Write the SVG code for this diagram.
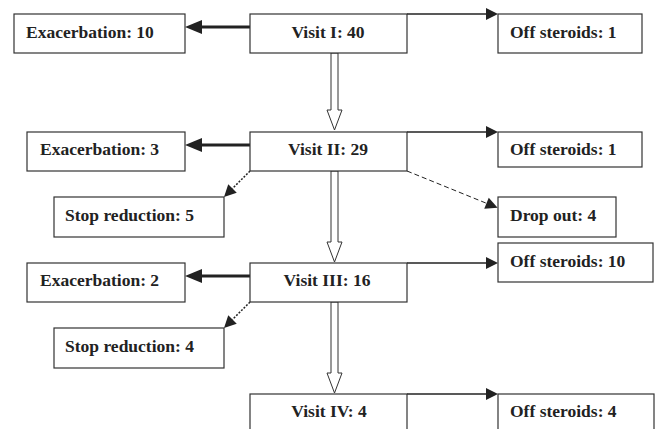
<svg xmlns="http://www.w3.org/2000/svg" width="655" height="429" viewBox="0 0 655 429">
<style>
.box{fill:#fff;stroke:#333;stroke-width:1.2}
.t{font-family:"Liberation Serif","Times New Roman",serif;font-weight:bold;font-size:17.5px;fill:#222}
.c{text-anchor:middle}
.thick{stroke:#222;stroke-width:3;fill:none}
.thin{stroke:#222;stroke-width:1.5;fill:none}
.dot{stroke:#222;stroke-width:1.5;stroke-dasharray:2 1.5;fill:none}
.dash{stroke:#222;stroke-width:1;stroke-dasharray:5 3;fill:none}
.hollow{fill:#fff;stroke:#333;stroke-width:1}
</style>
<defs>
<marker id="hb" markerUnits="userSpaceOnUse" viewBox="0 -7 17 14" markerWidth="17" markerHeight="14" refX="0" refY="0" orient="auto" overflow="visible"><path d="M0,-7 L17,0 L0,7 z" fill="#222"/></marker>
<marker id="hs" markerUnits="userSpaceOnUse" viewBox="0 -6 12 12" markerWidth="12" markerHeight="12" refX="0" refY="0" orient="auto" overflow="visible"><path d="M0,-6 L12,0 L0,6 z" fill="#222"/></marker>
</defs>
<rect width="655" height="429" fill="#fff"/>
<g id="connectors">
<line class="thick" x1="250" y1="27" x2="202" y2="27" marker-end="url(#hb)"/>
<line class="thick" x1="250" y1="145" x2="202" y2="145" marker-end="url(#hb)"/>
<line class="thick" x1="250" y1="276" x2="202" y2="276" marker-end="url(#hb)"/>
<line class="thin" x1="407" y1="14" x2="486" y2="14" marker-end="url(#hs)"/>
<line class="thin" x1="407" y1="132" x2="486" y2="132" marker-end="url(#hs)"/>
<line class="thin" x1="407" y1="263" x2="486" y2="263" marker-end="url(#hs)"/>
<line class="thin" x1="407" y1="394" x2="486" y2="394" marker-end="url(#hs)"/>
<line class="dot" x1="250" y1="171" x2="232.5" y2="188.5" marker-end="url(#hs)"/>
<line class="dot" x1="250" y1="302" x2="232.5" y2="319.5" marker-end="url(#hs)"/>
<line class="dash" x1="407" y1="171" x2="486.5" y2="203.3" marker-end="url(#hs)"/>
<path class="hollow" d="M331,53 L338,53 L338,110 L342,110 L334.5,130 L327,110 L331,110 z"/>
<path class="hollow" d="M331,171 L338,171 L338,242 L342,242 L334.5,262 L327,242 L331,242 z"/>
<path class="hollow" d="M331,302 L338,302 L338,373 L342,373 L334.5,393 L327,373 L331,373 z"/>
</g>
<g id="ex10"><rect class="box" x="14" y="14" width="171" height="39"/><text class="t" x="26" y="37.5">Exacerbation: 10</text></g>
<g id="v1"><rect class="box" x="250" y="14" width="157" height="39"/><text class="t c" x="328" y="37.5">Visit I: 40</text></g>
<g id="off1a"><rect class="box" x="498" y="14" width="144" height="39"/><text class="t" x="510" y="37.5">Off steroids: 1</text></g>
<g id="ex3"><rect class="box" x="27" y="132" width="158" height="39"/><text class="t" x="40" y="154.5">Exacerbation: 3</text></g>
<g id="v2"><rect class="box" x="250" y="132" width="157" height="39"/><text class="t c" x="328" y="154.5">Visit II: 29</text></g>
<g id="off1b"><rect class="box" x="498" y="132" width="144" height="35"/><text class="t" x="510" y="154.5">Off steroids: 1</text></g>
<g id="sr5"><rect class="box" x="54" y="197" width="170" height="40"/><text class="t" x="65" y="220.5">Stop reduction: 5</text></g>
<g id="do4"><rect class="box" x="498" y="197" width="118" height="40"/><text class="t" x="510" y="220.5">Drop out: 4</text></g>
<g id="off10"><rect class="box" x="498" y="243" width="155" height="39"/><text class="t" x="510" y="266.5">Off steroids: 10</text></g>
<g id="ex2"><rect class="box" x="27" y="263" width="158" height="39"/><text class="t" x="40" y="285.5">Exacerbation: 2</text></g>
<g id="v3"><rect class="box" x="250" y="263" width="157" height="39"/><text class="t c" x="327" y="285.5">Visit III: 16</text></g>
<g id="sr4"><rect class="box" x="54" y="328" width="170" height="40"/><text class="t" x="65" y="351.5">Stop reduction: 4</text></g>
<g id="v4"><rect class="box" x="250" y="394" width="157" height="50"/><text class="t c" x="329" y="416.5">Visit IV: 4</text></g>
<g id="off4"><rect class="box" x="498" y="394" width="156" height="50"/><text class="t" x="510" y="416.5">Off steroids: 4</text></g>
</svg>
